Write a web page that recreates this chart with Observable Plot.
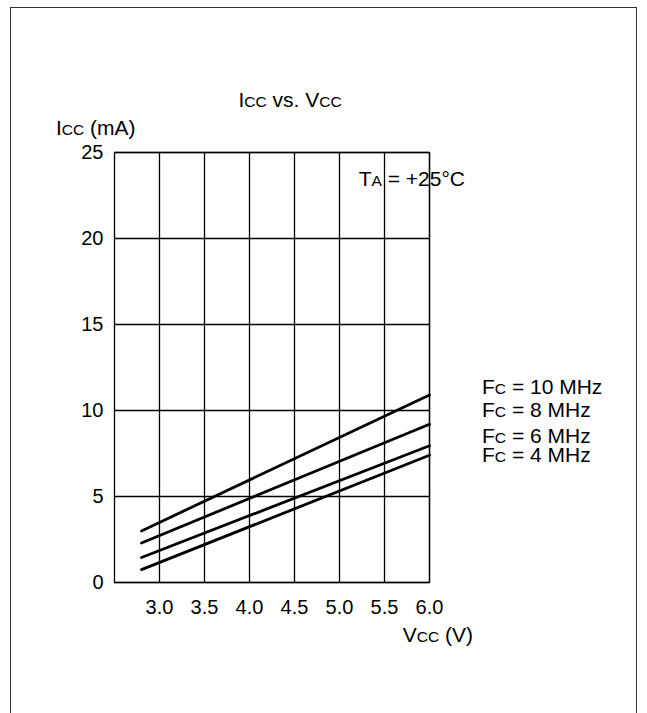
<!DOCTYPE html>
<html><head><meta charset="utf-8">
<script src="https://cdn.jsdelivr.net/npm/d3@7"></script>
<script src="https://cdn.jsdelivr.net/npm/@observablehq/plot@0.6"></script>
<style>
body{margin:0;background:#fff;}
#wrap{position:relative;width:647px;height:713px;overflow:hidden;background:#fff;}
#frame{position:absolute;left:10px;top:7px;width:627px;height:800px;border:1.5px solid #333;box-sizing:border-box;pointer-events:none;}
#wrap svg{position:absolute;left:0;top:0;}
</style></head><body><div id="wrap"><div id="frame"></div></div>
<script>
// ---- data ----
const vccRange = [2.8, 6.0];                 // V, start and end of each curve
const freqLabels = ["10 MHz", "8 MHz", "6 MHz", "4 MHz"];
const iccAtStart = [3.0, 2.3, 1.45, 0.75];   // mA at 2.8 V
const iccAtEnd = [10.9, 9.2, 7.95, 7.4];     // mA at 6.0 V
const xTicks = [3.0, 3.5, 4.0, 4.5, 5.0, 5.5, 6.0];
const yTicks = [0, 5, 10, 15, 20, 25];

const rows = [];
freqLabels.forEach((f, k) => {
  rows.push({f, v: vccRange[0], i: iccAtStart[k]});
  rows.push({f, v: vccRange[1], i: iccAtEnd[k]});
});

const FONT = "'Liberation Sans', Arial, Helvetica, sans-serif";
const plot = Plot.plot({
  width: 647, height: 713,
  marginLeft: 114, marginRight: 218, marginTop: 152, marginBottom: 131,
  style: {fontFamily: FONT, fontSize: "20px", color: "#000", background: "transparent", overflow: "visible"},
  x: {domain: [2.5, 6.0]},
  y: {domain: [0, 25]},
  marks: [
    Plot.gridX(xTicks, {stroke: "#000", strokeOpacity: 1, strokeWidth: 1.3}),
    Plot.gridY(yTicks, {stroke: "#000", strokeOpacity: 1, strokeWidth: 1.3}),
    Plot.frame({stroke: "#000", strokeWidth: 1.3}),
    Plot.axisX(xTicks, {tickSize: 0, tickPadding: 17, tickFormat: d => d.toFixed(1), fontSize: 20, label: null}),
    Plot.axisY(yTicks, {tickSize: 0, tickPadding: 11, fontSize: 20, label: null}),
    Plot.line(rows, {x: "v", y: "i", z: "f", stroke: "#000", strokeWidth: 2.8})
  ]
});
document.getElementById("wrap").insertBefore(plot, document.getElementById("frame"));

const sx = plot.scale("x").apply, sy = plot.scale("y").apply;
const svg = d3.select(plot);
function addText(x, y, parts, anchor = "start", fs = 21) {
  const t = svg.append("text").attr("x", x).attr("y", y)
    .attr("text-anchor", anchor).attr("font-family", FONT)
    .attr("font-size", fs).attr("fill", "#000");
  parts.forEach(p => {
    const small = p.startsWith("_");
    t.append("tspan").attr("font-size", small ? fs * 0.74 : fs).text(small ? p.slice(1) : p);
  });
}
addText(290, 107, ["I", "_CC", " vs. V", "_CC"], "middle");
addText(sx(2.5) - 58, sy(25) - 17, ["I", "_CC", " (mA)"]);
addText(sx(6.0) + 44, sy(0) + 60, ["V", "_CC", " (V)"], "end");
addText(sx(6.0) + 36, sy(25) + 34, ["T", "_A", " = +25°C"], "end");
const labelDy = [-0.5, -7, -2, 7];
freqLabels.forEach((f, k) => {
  addText(sx(6.0) + 53, sy(iccAtEnd[k]) + labelDy[k], ["F", "_C", " = " + f]);
});
</script></body></html>
